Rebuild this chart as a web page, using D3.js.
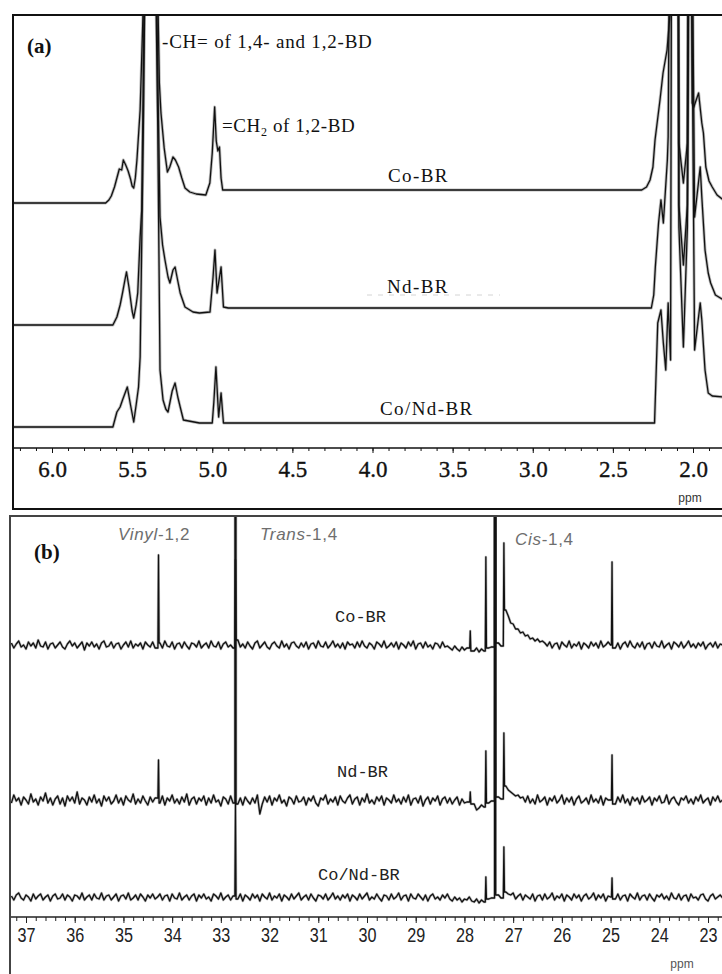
<!DOCTYPE html>
<html>
<head>
<meta charset="utf-8">
<script src="https://cdn.jsdelivr.net/npm/d3@7"></script>
<style>
  body { margin: 0; background: #fff; }
  svg { display: block; }
</style>
</head>
<body>
<svg id="chart"></svg>
<script>
// ---- data: (a) 1H NMR, [ppm, intensity above own left baseline] ----
const samples = ["Co-BR", "Nd-BR", "Co/Nd-BR"];

const cobrH = [[6.25,0],[5.9,0],[5.665,0],[5.645,3],[5.63,7],[5.61,16],[5.60,22],[5.58,34],[5.565,33],[5.555,43],
  [5.54,38],[5.525,32],[5.51,24],[5.50,17],[5.49,15],[5.48,25],[5.47,43],[5.45,93],[5.43,200],[5.39,900],
  [5.34,210],[5.33,120],[5.32,90],[5.30,55],[5.28,31],[5.265,36],[5.245,46],[5.23,43],[5.21,36],[5.19,25],
  [5.17,15],[5.14,11],[5.10,9],[5.04,8],[5.015,20],[5.0,50],[4.985,96],[4.975,62],[4.965,52],[4.955,56],
  [4.945,25],[4.935,13],[4.9,13],[2.32,13],[2.29,16],[2.268,23],[2.25,36],[2.237,63],[2.206,103],[2.187,130],
  [2.162,153],[2.143,190],[2.12,700],[2.10,900],[2.088,60],[2.06,20],[2.035,60],[2.02,700],[2.005,100],
  [1.995,96],[1.965,110],[1.945,80],[1.935,70],[1.92,36],[1.90,22],[1.88,16],[1.85,8],[1.81,3]];

const ndbrH = [[6.25,0],[5.9,0],[5.62,0],[5.595,8],[5.575,20],[5.56,32],[5.545,45],[5.535,53],[5.52,38],[5.50,14],
  [5.49,7],[5.475,20],[5.465,32],[5.45,88],[5.44,115],[5.43,250],[5.39,900],[5.34,250],[5.326,108],[5.31,80],
  [5.295,65],[5.276,48],[5.264,42],[5.245,55],[5.232,58],[5.215,44],[5.20,32],[5.17,18],[5.12,13],[5.08,12],
  [5.014,13],[4.995,48],[4.983,75],[4.97,32],[4.945,58],[4.93,18],[4.9,17],[2.26,17],[2.245,30],[2.235,58],
  [2.215,102],[2.20,125],[2.185,102],[2.16,165],[2.155,188],[2.13,800],[2.10,900],[2.088,120],[2.06,60],
  [2.035,120],[2.02,700],[1.99,108],[1.955,158],[1.945,128],[1.925,75],[1.905,52],[1.89,42],[1.86,30],[1.81,25]];

const condH = [[6.25,0],[5.9,0],[5.62,0],[5.595,15],[5.575,20],[5.56,27],[5.53,40],[5.51,22],[5.49,5],[5.475,22],
  [5.46,40],[5.45,70],[5.43,300],[5.39,900],[5.34,300],[5.326,57],[5.307,27],[5.29,18],[5.276,15],[5.25,36],
  [5.232,44],[5.215,30],[5.20,20],[5.18,7],[5.08,4],[5.0,4],[4.99,25],[4.977,60],[4.96,10],[4.945,34],
  [4.93,4],[4.9,4],[2.24,4],[2.22,104],[2.20,117],[2.185,84],[2.17,57],[2.155,124],[2.14,67],[2.13,800],
  [2.10,900],[2.088,200],[2.06,80],[2.035,200],[2.02,700],[1.99,77],[1.955,124],[1.945,107],[1.925,57],
  [1.905,34],[1.88,31],[1.81,30]];

const ticksH = [6.0, 5.5, 5.0, 4.5, 4.0, 3.5, 3.0, 2.5, 2.0];

// ---- data: (b) 13C NMR, baseline sampled every 0.05 ppm from 37.3 down to 22.7 ----
const c13Start = 37.3, c13Step = 0.05;

const cobrC = [
  2,-3,1,4,-2,0,-4,3,-1,2,-3,5,-1,-2,3,-4,1,2,-3,0,
  3,-2,-4,1,4,-1,2,-3,0,3,-5,2,-1,3,-2,1,-4,2,4,-2,
  -1,3,-3,1,2,-4,0,3,-2,4,-3,1,-1,2,-4,3,0,-2,3,-3,
  0,2,-3,4,-1,-2,3,-4,1,2,-3,3,-1,-4,2,1,-2,4,-3,0,
  2,-3,4,-1,-2,3,-4,1,3,-2,0,-3,0,5,-2,1,-3,3,-1,-4,
  2,4,-3,0,3,-2,-4,1,3,-1,-3,4,-2,1,-4,2,3,-1,-3,2,
  -2,3,-4,1,2,-3,4,-1,-2,3,-3,0,4,-2,1,-3,2,-4,3,0,
  1,-3,3,-2,4,-1,-3,2,0,-4,3,1,-2,4,-3,-1,2,-2,3,-4,
  2,0,-3,3,-1,4,-4,1,2,-3,3,-2,0,-4,2,1,-3,3,-2,-1,
  -3,-5,-1,-4,-6,-2,-5,-3,0,-4,-6,-3,-7,-4,-6,0,-3,-2,0,0,
  2,-1,0,35,29,22,21,16,16,12,13,9,10,6,7,4,6,3,4,2,
  -1,3,-3,1,2,-4,3,0,-2,4,-3,1,-1,3,-4,2,0,-3,3,-1,
  2,-3,4,-2,0,3,0,0,-3,2,-4,1,3,-2,4,-1,-3,2,-2,3,
  -4,1,2,-3,3,-1,-2,4,-3,0,2,-4,3,1,-2,3,-3,0,4,-2,
  1,-3,2,-1,3,-4,0,2,-2,3,-3,1,0];

const ndbrC = [
  -3,5,-1,2,-5,3,0,-4,6,-2,1,-5,3,-1,7,-3,2,-5,1,4,
  -4,2,-6,4,-1,3,-3,8,-4,2,0,-5,3,-2,5,-3,1,-6,4,-1,
  3,-4,-1,5,-3,2,-5,4,0,-2,6,-4,1,-3,4,-1,-5,3,-2,2,
  0,-3,4,-5,2,-1,5,-3,1,-4,3,-2,6,-5,1,3,-4,2,-1,4,
  -5,2,-3,5,-2,0,-6,3,1,-4,4,-3,0,-4,2,-5,3,-1,-4,2,
  -3,5,-14,-4,3,-2,4,-5,2,-1,5,-3,0,-6,3,1,-4,4,-2,-1,
  3,-5,2,-1,4,-3,-6,2,0,5,-4,1,-2,3,-5,4,-1,-3,2,5,
  -4,1,3,-5,2,-2,6,-3,0,-4,3,-1,4,-5,2,0,-3,5,-2,1,
  -4,3,-2,5,-5,1,2,-3,4,-6,0,3,-4,2,-1,4,-5,1,3,-3,
  2,-4,0,3,-5,1,-3,-2,0,-6,-4,-10,-8,-5,-7,0,-3,-1,0,0,
  3,1,0,14,10,8,6,4,5,2,3,-2,4,-3,1,-4,5,-2,0,3,
  -5,2,-1,4,-3,0,5,-4,2,-2,3,-5,1,4,-3,-1,2,-4,5,-2,
  1,-3,4,-5,2,0,0,0,-4,3,-2,5,-3,1,-5,3,-1,2,-4,4,
  -2,0,3,-5,2,-1,4,-3,-2,5,-4,1,3,-2,-5,2,0,4,-3,1,
  -4,3,-1,5,-3,0,2,-5,3,-1,4,-2,0];

const condC = [
  1,-3,2,4,-1,-3,2,0,-4,3,-2,1,3,-3,0,2,-4,1,3,-2,
  -1,3,-3,2,0,-4,2,1,-2,4,-3,0,2,-3,3,-1,-2,4,-3,1,
  2,-3,0,3,-4,1,2,-2,4,-3,-1,2,-3,3,0,-4,2,-1,3,-2,
  0,3,-3,1,2,-4,3,-1,-2,4,-3,0,2,-3,1,3,-4,2,-1,3,
  -2,0,-4,3,1,-2,4,-3,0,2,-3,1,0,-2,3,-4,2,0,-3,3,
  -1,2,-4,3,0,-2,4,-3,1,-1,3,-4,2,0,-3,3,-2,1,4,-3,
  0,2,-3,3,-1,-4,2,1,-2,3,-3,0,4,-2,1,-3,2,-1,3,-4,
  2,0,-3,3,-2,1,4,-3,0,-2,3,-1,-4,2,1,-3,3,-2,0,4,
  -3,1,2,-4,3,-1,-2,3,0,-3,2,-4,1,3,-2,0,-3,2,-1,3,
  -2,-4,0,-3,-1,-5,-2,-3,0,-4,-5,-2,-6,-3,-5,0,-2,-1,0,0,
  2,-1,0,5,3,2,4,-2,1,3,-3,2,0,-2,3,-4,1,2,-3,3,
  -2,0,4,-3,1,-1,3,-4,2,0,-3,3,-1,2,-4,1,3,-2,0,4,
  -3,2,-1,3,-4,1,0,0,-2,3,-3,1,2,-4,3,0,-2,4,-3,1,
  2,-3,3,-1,-4,2,0,3,-2,1,-3,4,-1,-2,3,-3,1,2,-4,3,
  -1,0,-3,2,3,-2,-4,1,3,-2,0,2,-1];

// sharp lines: [ppm, height, half width in ppm]
const cobrPeaks = [[34.28,90,0.012],[32.70,85,0.012],[27.88,14,0.012],[27.56,88,0.012],[27.37,2000,0.012],[27.19,102,0.012],[24.97,83,0.012]];
const ndbrPeaks = [[34.28,40,0.012],[32.70,2000,0.012],[27.88,8,0.012],[27.56,49,0.012],[27.37,2000,0.012],[27.19,67,0.012],[24.97,45,0.012]];
const condPeaks = [[32.70,94,0.012],[27.56,20,0.012],[27.37,2000,0.012],[27.19,50,0.012],[24.97,19,0.012]];

const ticksC = [37, 36, 35, 34, 33, 32, 31, 30, 29, 28, 27, 26, 25, 24, 23];

// ---- layout ----
const W = 722, H = 974;
const offsetsH = [245, 123, 21];   // stacking offsets, px
const offsetsC = [272, 117, 20];
const serif = "'Liberation Serif', 'Times New Roman', serif";
const sans = "'Liberation Sans', Arial, sans-serif";

const svg = d3.select("#chart").attr("width", W).attr("height", H);
const defs = svg.append("defs");
defs.append("clipPath").attr("id", "clipA").append("rect")
  .attr("x", 14).attr("y", 16).attr("width", 710).attr("height", 431);
defs.append("clipPath").attr("id", "clipB").append("rect")
  .attr("x", 11).attr("y", 517).attr("width", 712).attr("height", 399);

// draws a trace twice: a soft wide underlay (scan fuzz / noise) and a crisp core line
function drawTrace(parent, data, line, fuzz, core) {
  parent.append("path").datum(data)
    .attr("fill", "none").attr("stroke", "#222").attr("stroke-opacity", 0.3)
    .attr("stroke-width", fuzz).attr("stroke-linejoin", "round").attr("d", line);
  parent.append("path").datum(data)
    .attr("fill", "none").attr("stroke", "#111")
    .attr("stroke-width", core).attr("stroke-linejoin", "round").attr("d", line);
}

// ================= panel (a) =================
const xA = d3.scaleLinear().domain([6.0, 2.0]).range([52, 693]);
const yA = d3.scaleLinear().domain([0, 433]).range([448, 15]);

const gA = svg.append("g");
const plotA = gA.append("g").attr("clip-path", "url(#clipA)");

[cobrH, ndbrH, condH].forEach((spec, i) => {
  const line = d3.line()
    .x(d => xA(d[0]))
    .y(d => yA(d[1] + offsetsH[i]));
  drawTrace(plotA, spec, line, 3, 1.3);
});

// axis
gA.append("line").attr("x1", 13).attr("x2", 722).attr("y1", 448).attr("y2", 448)
  .attr("stroke", "#111").attr("stroke-width", 1.5);
gA.append("g").attr("transform", "translate(0,448)")
  .call(d3.axisBottom(xA).tickValues(d3.range(19, 63).map(d => d / 10)).tickSize(3).tickFormat(""))
  .call(g => g.select(".domain").remove())
  .call(g => g.selectAll("line").attr("stroke", "#111"));
gA.append("g").attr("transform", "translate(0,448)")
  .call(d3.axisBottom(xA).tickValues(ticksH).tickSize(5).tickPadding(8).tickFormat(d3.format(".1f")))
  .call(g => g.select(".domain").remove())
  .call(g => g.selectAll("line").attr("stroke", "#111"))
  .attr("font-size", 23)
  .attr("font-family", serif)
  .call(g => g.selectAll("text").attr("fill", "#111")
    .attr("stroke", "#111").attr("stroke-width", 0.35));

gA.append("text").attr("x", 690).attr("y", 502).attr("text-anchor", "middle")
  .attr("font-family", sans).attr("font-size", 12)
  .attr("fill", "#333").text("ppm");

// frame
gA.append("rect").attr("x", 13).attr("y", 15).attr("width", 730).attr("height", 494)
  .attr("fill", "none").attr("stroke", "#111").attr("stroke-width", 2);

gA.append("text").attr("x", 27).attr("y", 53)
  .attr("font-family", serif)
  .attr("font-size", 21).attr("font-weight", "bold").attr("fill", "#111").text("(a)");

gA.append("text").attr("x", 162).attr("y", 48).attr("font-family", serif)
  .attr("font-size", 19).attr("letter-spacing", 0.8).attr("fill", "#111")
  .text("-CH= of 1,4- and 1,2-BD");
const ch2 = gA.append("text").attr("x", 222).attr("y", 132).attr("font-family", serif)
  .attr("font-size", 19).attr("letter-spacing", 0.6).attr("fill", "#111");
ch2.append("tspan").text("=CH");
ch2.append("tspan").attr("font-size", 12).attr("dy", 4).text("2");
ch2.append("tspan").attr("dy", -4).text(" of 1,2-BD");

const labelPosA = [[388, 182], [387, 293], [380, 415]];
samples.forEach((s, i) => {
  gA.append("text").attr("x", labelPosA[i][0]).attr("y", labelPosA[i][1])
    .attr("font-family", serif).attr("font-size", 19).attr("letter-spacing", 1.4)
    .attr("fill", "#111").text(s);
});
// faint dashes next to Nd-BR label
gA.append("line").attr("x1", 367).attr("x2", 500).attr("y1", 295).attr("y2", 295)
  .attr("stroke", "#d4d4d4").attr("stroke-width", 1).attr("stroke-dasharray", "5,6");

// ================= panel (b) =================
const xB = d3.scaleLinear().domain([37, 23]).range([26, 708]);
const yB = d3.scaleLinear().domain([0, 400]).range([917, 517]);

function buildTrace(grid, peaks) {
  const pts = [];
  grid.forEach((v, i) => {
    const p = +(c13Start - i * c13Step).toFixed(2);
    if (!peaks.some(k => Math.abs(k[0] - p) < 0.03)) pts.push([p, v]);
  });
  const extra = [];
  peaks.forEach(([p, h, w]) => {
    const left = pts.filter(d => d[0] > p).pop();
    const right = pts.find(d => d[0] < p);
    extra.push([p + w, left[1]], [p, h], [p - w, right[1]]);
  });
  return pts.concat(extra).sort((a, b) => b[0] - a[0]);
}

const gB = svg.append("g");
const plotB = gB.append("g").attr("clip-path", "url(#clipB)");

[[cobrC, cobrPeaks], [ndbrC, ndbrPeaks], [condC, condPeaks]].forEach(([grid, peaks], i) => {
  const line = d3.line()
    .x(d => xB(d[0]))
    .y(d => yB(d[1] + offsetsC[i]));
  drawTrace(plotB, buildTrace(grid, peaks), line, 2.6, 1.3);
});

gB.append("line").attr("x1", 10).attr("x2", 722).attr("y1", 917).attr("y2", 917)
  .attr("stroke", "#222").attr("stroke-width", 1.5);
gB.append("g").attr("transform", "translate(0,917)")
  .call(d3.axisBottom(xB).tickValues(d3.range(114, 187).map(d => d / 5)).tickSize(4).tickFormat(""))
  .call(g => g.select(".domain").remove())
  .call(g => g.selectAll("line").attr("stroke", "#222"));
gB.append("g").attr("transform", "translate(0,917)")
  .call(d3.axisBottom(xB).tickValues(ticksC).tickSize(6).tickPadding(5).tickFormat(d3.format("d")))
  .call(g => g.select(".domain").remove())
  .call(g => g.selectAll("line").attr("stroke", "#222"))
  .attr("font-size", 20)
  .attr("font-family", "'Liberation Sans Narrow', 'Liberation Sans', Arial, sans-serif")
  .call(g => g.selectAll("text").attr("fill", "#222")
    .attr("textLength", 18).attr("lengthAdjust", "spacingAndGlyphs"));

gB.append("text").attr("x", 682).attr("y", 968).attr("text-anchor", "middle")
  .attr("font-family", sans).attr("font-size", 12)
  .attr("fill", "#555").text("ppm");

gB.append("rect").attr("x", 10).attr("y", 516).attr("width", 730).attr("height", 480)
  .attr("fill", "none").attr("stroke", "#444").attr("stroke-width", 2);

gB.append("text").attr("x", 34).attr("y", 559).attr("font-family", serif)
  .attr("font-size", 21).attr("font-weight", "bold").attr("fill", "#111").text("(b)");

const bracketLabels = [["Vinyl", "-1,2", 118, 540], ["Trans", "-1,4", 260, 540], ["Cis", "-1,4", 515, 545]];
bracketLabels.forEach(([it, rest, x, y]) => {
  const t = gB.append("text").attr("x", x).attr("y", y).attr("font-family", sans)
    .attr("font-size", 17).attr("letter-spacing", 0.7).attr("fill", "#6e6e6e");
  t.append("tspan").attr("font-style", "italic").text(it);
  t.append("tspan").text(rest);
});

const labelPosB = [[335, 622], [337, 777], [318, 880]];
samples.forEach((s, i) => {
  gB.append("text").attr("x", labelPosB[i][0]).attr("y", labelPosB[i][1])
    .attr("font-family", "'Liberation Mono', 'Courier New', monospace").attr("font-size", 17)
    .attr("fill", "#222").text(s);
});
</script>
</body>
</html>
